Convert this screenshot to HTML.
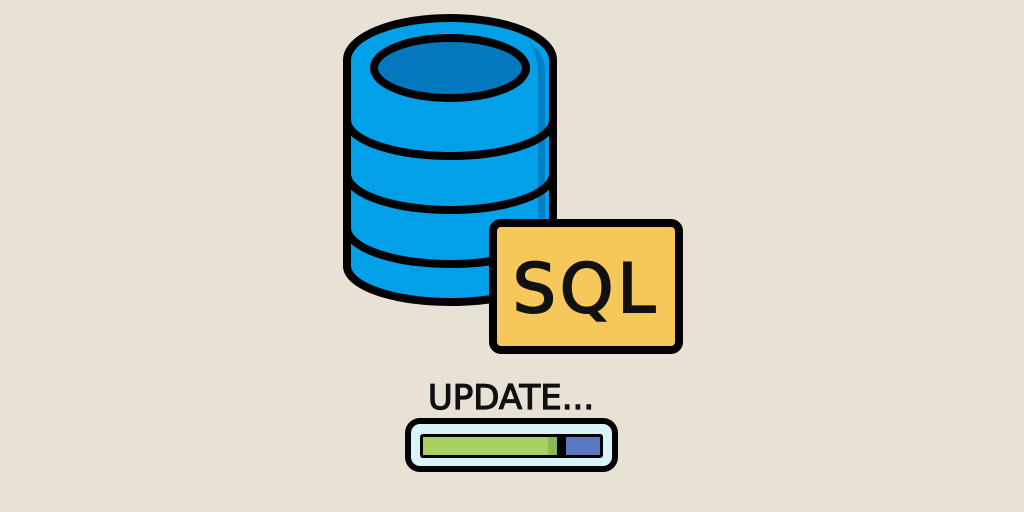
<!DOCTYPE html>
<html><head><style>
html,body{margin:0;padding:0;background:#e8e2d6;width:1024px;height:512px;overflow:hidden}
</style></head><body>
<svg width="1024" height="512" viewBox="0 0 1024 512" xmlns="http://www.w3.org/2000/svg">
<rect width="1024" height="512" fill="#e8e2d6"/>
<path d="M347 60 A103 42 0 0 1 553 60 L553 266 A103 36 0 0 1 347 266 Z" fill="#03a0ea" stroke="#000" stroke-width="8"/>
<path d="M528 40 Q545 55 545 70 L545 262 Q540 275 528 280 Q538 265 538 255 L538 75 Q538 55 528 40 Z" fill="#0380c4"/>
<ellipse cx="450" cy="68" rx="76" ry="30" fill="#0378bf" stroke="#000" stroke-width="8"/>
<path d="M347 120 A103 36 0 0 0 553 120" fill="none" stroke="#000" stroke-width="8"/>
<path d="M347 174 A103 36 0 0 0 553 174" fill="none" stroke="#000" stroke-width="8"/>
<path d="M347 228 A103 36 0 0 0 553 228" fill="none" stroke="#000" stroke-width="8"/>
<rect x="493" y="223" width="186" height="127" rx="8" fill="#f6c75a" stroke="#000" stroke-width="8"/>
<text x="586" y="312" text-anchor="middle" font-family="DejaVu Sans, sans-serif" font-size="68" fill="#111" stroke="#111" stroke-width="2" letter-spacing="4">SQL</text>
<text x="511" y="409" text-anchor="middle" font-family="DejaVu Sans, sans-serif" font-size="34" fill="#111" stroke="#111" stroke-width="1.2">UPDATE...</text>
<rect x="408" y="421" width="207" height="48" rx="12" fill="#d9f4f6" stroke="#000" stroke-width="6"/>
<rect x="420" y="434" width="183" height="24" rx="3" fill="#000"/>
<rect x="423" y="437" width="134" height="18" fill="#a8d160"/>
<rect x="548" y="437" width="9" height="18" fill="#8cb858"/>
<rect x="566" y="437" width="34" height="18" fill="#5a78c0"/>
</svg>
</body></html>
